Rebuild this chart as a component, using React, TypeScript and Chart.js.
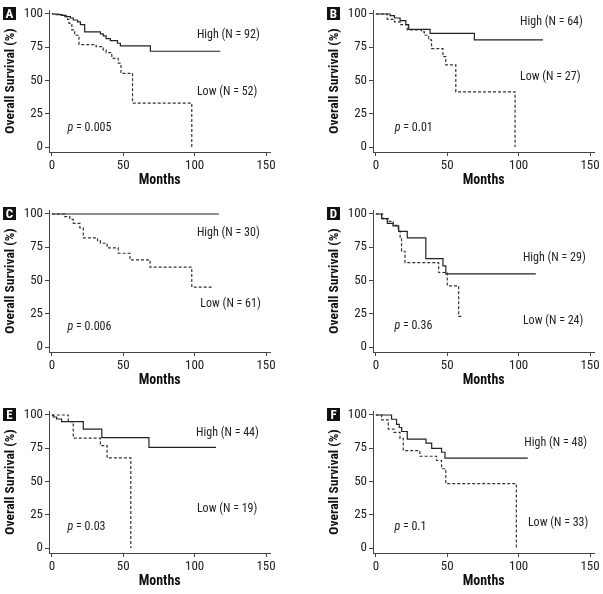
import React, { useEffect, useRef } from "react";
import { Chart, registerables } from "chart.js";
Chart.register(...registerables);

const FONT = "'Roboto Condensed', Roboto, 'Liberation Sans', sans-serif";

const xTicks = [0, 50, 100, 150];
const yTicks = [0, 25, 50, 75, 100];

// Panel A
const aHighT = [0, 3, 7, 10, 13, 15, 18, 20, 23, 34, 36, 38, 41, 46, 48, 69, 118];
const aHighS = [100, 99.5, 99, 98, 97, 95.5, 94, 92, 86.5, 85, 83.5, 81.5, 80, 78, 76, 72, 72];
const aLowT = [0, 5, 8, 11, 12, 14, 16, 19, 31, 36, 38, 42, 46.5, 48.4, 56.5, 98];
const aLowS = [100, 99, 98, 96, 93, 88, 84, 77, 75.4, 73, 71, 66.7, 63, 55.4, 33, 0];

// Panel B
const bHighT = [0, 10, 13, 17, 21, 23, 38, 69, 117];
const bHighS = [100, 98.7, 97, 95, 92, 88.5, 85.5, 80.5, 80.5];
const bLowT = [0, 8, 13, 17, 22, 32, 34, 37, 39, 47, 49, 56, 97.5];
const bLowS = [100, 96, 94, 92, 88, 86.5, 84, 80.5, 74, 68, 61.7, 41.5, 0];

// Panel C
const cHighT = [0, 117];
const cHighS = [100, 100];
const cLowT = [0, 9, 12.6, 15, 19.6, 22, 32, 34, 38.7, 46.5, 54.7, 68.8, 98, 113];
const cLowS = [100, 98, 96, 93, 89.5, 82, 80, 78, 74.5, 70.5, 65.5, 60, 45, 45];

// Panel D
const dHighT = [0, 4, 8, 12, 16, 22, 35, 47, 49, 112];
const dHighS = [100, 96.5, 93, 91, 87, 82, 66.5, 61, 55, 55];
const dLowT = [0, 4.7, 8.7, 12.2, 15.7, 17, 18, 20.4, 44, 50, 58, 60];
const dLowS = [100, 96.5, 94.5, 91.5, 87, 82, 72, 63.5, 56, 46, 23, 23];

// Panel E
const eHighT = [0, 1, 3.3, 6.8, 22, 35, 68, 115];
const eHighS = [100, 98.5, 97, 95, 89.3, 83, 75.6, 75.6];
const eLowT = [0, 11.5, 15, 34, 38.7, 55.3];
const eLowS = [100, 95, 82.6, 77, 67.7, 0];

// Panel F
const fHighT = [0, 11, 14.5, 16.4, 18.1, 22, 35.1, 39.1, 46, 48.4, 106.4];
const fHighS = [100, 96.8, 93, 90.6, 87.6, 81.9, 78.9, 74.9, 72, 67.5, 67.5];
const fLowT = [0, 4, 8.7, 12.7, 16.9, 19.2, 30.8, 42.5, 46, 49, 98.4];
const fLowS = [100, 96.3, 89.4, 86.9, 82.4, 73.2, 69, 65.8, 59.6, 48.4, 0];

const panelLetters = ["A", "B", "C", "D", "E", "F"];
const highLabels = ["High (N = 92)", "High (N = 64)", "High (N = 30)", "High (N = 29)", "High (N = 44)", "High (N = 48)"];
const lowLabels = ["Low (N = 52)", "Low (N = 27)", "Low (N = 61)", "Low (N = 24)", "Low (N = 19)", "Low (N = 33)"];
const pValues = ["0.005", "0.01", "0.006", "0.36", "0.03", "0.1"];

const highT = [aHighT, bHighT, cHighT, dHighT, eHighT, fHighT];
const highS = [aHighS, bHighS, cHighS, dHighS, eHighS, fHighS];
const lowT = [aLowT, bLowT, cLowT, dLowT, eLowT, fLowT];
const lowS = [aLowS, bLowS, cLowS, dLowS, eLowS, fLowS];

// label anchor positions (data units): [highX, highY, lowX, lowY, pX, pY]
const labelPos = [
  [101.6, 84, 101.6, 41, 11, 14],
  [101, 94, 101, 52.6, 13.3, 14],
  [101.6, 86, 104, 32, 11, 15],
  [103, 67, 103, 19.4, 13, 16],
  [101, 86.5, 101.6, 29, 11, 15.7],
  [104, 79, 106.5, 18.6, 13, 15.7],
];

const CW = 280;
const CH = 194;
const colLeft = [0, 324];
const rowTop = [0, 200, 401];

const textPlugin = {
  id: "kmText",
  afterDatasetsDraw(chart: any, _args: any, opts: any) {
    const { ctx } = chart;
    const x = chart.scales.x;
    const y = chart.scales.y;
    ctx.save();
    ctx.fillStyle = "#222";
    ctx.textBaseline = "middle";
    ctx.textAlign = "left";
    for (const l of opts.labels || []) {
      const px = x.getPixelForValue(l.x);
      const py = y.getPixelForValue(l.y);
      let off = 0;
      if (l.italic) {
        ctx.font = `italic 12px ${FONT}`;
        ctx.fillText(l.italic, px, py);
        off = ctx.measureText(l.italic).width;
      }
      ctx.font = `12px ${FONT}`;
      ctx.fillText(l.text, px + off, py);
    }
    ctx.restore();
  },
};

function toPoints(t: number[], s: number[]) {
  return t.map((v, i) => ({ x: v, y: s[i] }));
}

function Panel({ idx }: { idx: number }) {
  const ref = useRef<HTMLCanvasElement>(null);
  useEffect(() => {
    const lp = labelPos[idx];
    const chart = new Chart(ref.current!, {
      type: "line",
      data: {
        datasets: [
          {
            data: toPoints(highT[idx], highS[idx]),
            stepped: true,
            borderColor: "#222",
            borderWidth: 1.2,
            pointRadius: 0,
            fill: false,
          },
          {
            data: toPoints(lowT[idx], lowS[idx]),
            stepped: true,
            borderColor: "#333",
            borderWidth: 1.2,
            borderDash: [3, 2],
            pointRadius: 0,
            fill: false,
          },
        ],
      },
      options: {
        animation: false,
        responsive: false,
        events: [],
        layout: { padding: { top: 10, right: 9.7, left: 0, bottom: 0 } },
        plugins: {
          legend: { display: false },
          tooltip: { enabled: false },
          kmText: {
            labels: [
              { x: lp[0], y: lp[1], text: highLabels[idx] },
              { x: lp[2], y: lp[3], text: lowLabels[idx] },
              { x: lp[4], y: lp[5], italic: "p", text: " = " + pValues[idx] },
            ],
          },
        } as any,
        scales: {
          x: {
            type: "linear",
            min: -2,
            max: 153,
            afterBuildTicks: (axis: any) => {
              axis.ticks = xTicks.map((v) => ({ value: v }));
            },
            afterFit: (scale: any) => {
              scale.height = CH - 152;
              scale.paddingLeft = 0;
              scale.paddingRight = 0;
            },
            grid: { display: true, drawOnChartArea: false, drawTicks: true, tickLength: 4, color: "#444" },
            border: { display: true, color: "#444", width: 1 },
            ticks: { color: "#222", font: { family: FONT, size: 13 }, padding: 2, maxRotation: 0, autoSkip: false },
            title: {
              display: true,
              text: "Months",
              color: "#111",
              font: { family: FONT, size: 14, weight: "bold" },
              padding: { top: 0, bottom: 5.6 },
            },
          },
          y: {
            type: "linear",
            min: -3.75,
            max: 103,
            afterBuildTicks: (axis: any) => {
              axis.ticks = yTicks.map((v) => ({ value: v }));
            },
            afterFit: (scale: any) => {
              scale.width = 49;
              scale.paddingTop = 0;
              scale.paddingBottom = 0;
            },
            grid: { display: true, drawOnChartArea: false, drawTicks: true, tickLength: 4, color: "#444" },
            border: { display: true, color: "#444", width: 1 },
            ticks: { color: "#222", font: { family: FONT, size: 13 }, padding: 2, autoSkip: false },
            title: {
              display: true,
              text: "Overall Survival (%)",
              color: "#111",
              font: { family: FONT, size: 13.5, weight: "bold" },
              padding: { top: 2.2, bottom: 0 },
            },
          },
        },
      },
      plugins: [textPlugin],
    });
    return () => chart.destroy();
  }, [idx]);
  const col = idx % 2;
  const row = Math.floor(idx / 2);
  return (
    <div style={{ position: "absolute", left: colLeft[col], top: rowTop[row], width: CW, height: CH }}>
      <canvas ref={ref} width={CW} height={CH} style={{ display: "block", width: CW, height: CH }} />
      <div
        style={{
          position: "absolute",
          left: 3,
          top: 7,
          width: 13,
          height: 13,
          background: "#111",
          color: "#fff",
          fontFamily: FONT,
          fontWeight: "bold",
          fontSize: 13,
          lineHeight: "13px",
          textAlign: "center",
        }}
      >
        {panelLetters[idx]}
      </div>
    </div>
  );
}

export default function App() {
  return (
    <div style={{ position: "fixed", left: 0, top: 0, width: 603, height: 594, background: "#fff", overflow: "hidden" }}>
      {panelLetters.map((_, i) => (
        <Panel key={i} idx={i} />
      ))}
    </div>
  );
}
